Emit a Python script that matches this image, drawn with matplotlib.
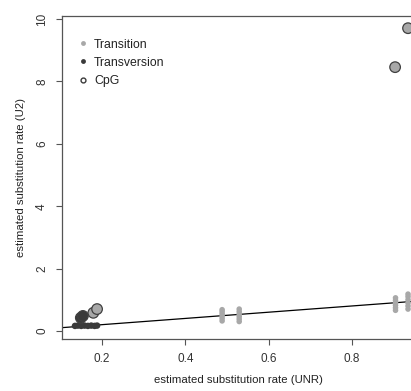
import matplotlib
matplotlib.use("Agg")
import matplotlib.pyplot as plt
from matplotlib.lines import Line2D

plt.rcParams['font.family'] = ['Liberation Sans', 'DejaVu Sans']

# Transition estimates (UNR vs U2)
ts_x = [0.488] * 6 + [0.529] * 6 + [0.904] * 6 + [0.934] * 6
ts_y = [0.32, 0.40, 0.48, 0.55, 0.62, 0.68,
        0.30, 0.38, 0.46, 0.54, 0.62, 0.70,
        0.66, 0.74, 0.82, 0.90, 0.98, 1.06,
        0.70, 0.80, 0.90, 1.00, 1.10, 1.18]

# Transversion estimates
tv_x = [0.135, 0.142, 0.150, 0.158, 0.166, 0.174, 0.182, 0.188]
tv_y = [0.16, 0.17, 0.16, 0.17, 0.16, 0.17, 0.16, 0.17]

# CpG sites (ringed), with the class of the underlying estimate
cpg_x = [0.149, 0.154, 0.179, 0.188, 0.903, 0.934]
cpg_y = [0.42, 0.48, 0.58, 0.70, 8.46, 9.71]
cpg_type = ['tv', 'tv', 'ts', 'ts', 'ts', 'ts']

GRAY = '#a8a8a8'
DARK = '#3a3a3a'

fig = plt.figure(figsize=(4.11, 3.91), dpi=100)
ax = fig.add_axes([0.151, 0.133, 0.859, 0.826])

ax.plot([0, 1], [0, 1], color='black', lw=0.9, zorder=2)
ax.scatter(ts_x, ts_y, s=16, color=GRAY, edgecolors='none', zorder=3)
ax.scatter(tv_x, tv_y, s=22, color=DARK, edgecolors='none', zorder=3)
fills = [DARK if t == 'tv' else GRAY for t in cpg_type]
ax.scatter(cpg_x, cpg_y, s=58, facecolors=fills, edgecolors='#404040',
           linewidths=0.9, zorder=4)

ax.set_xlim(0.104, 0.951)
ax.set_ylim(-0.26, 10.1)
ax.set_xticks([0.2, 0.4, 0.6, 0.8])
ax.set_xticklabels(['0.2', '0.4', '0.6', '0.8'])
ax.set_yticks([0, 2, 4, 6, 8, 10])
ax.set_yticklabels(['0', '2', '4', '6', '8', '10'], rotation=90, va='center')

for s in ax.spines.values():
    s.set_color('#555555')
    s.set_linewidth(0.9)
ax.tick_params(direction='out', length=4, width=0.8, color='#555555',
               labelsize=8.5, labelcolor='#333333', pad=6)

ax.set_xlabel('estimated substitution rate (UNR)', fontsize=8.2, color='#222222', labelpad=7)
ax.set_ylabel('estimated substitution rate (U2)', fontsize=8.2, color='#222222', labelpad=7)

handles = [
    Line2D([], [], ls='none', marker='o', ms=3.5, mfc=GRAY, mec='none'),
    Line2D([], [], ls='none', marker='o', ms=3.5, mfc=DARK, mec='none'),
    Line2D([], [], ls='none', marker='o', ms=3.5, mfc='none', mec=DARK, mew=1.0),
]
ax.legend(handles, ['Transition', 'Transversion', 'CpG'], loc='upper left',
          bbox_to_anchor=(0.046, 0.93), frameon=False, fontsize=8.8,
          handlelength=0.8, handletextpad=0.5, labelspacing=0.5,
          borderaxespad=0, borderpad=0, labelcolor='#222222')

fig.savefig('out.png', dpi=100)
